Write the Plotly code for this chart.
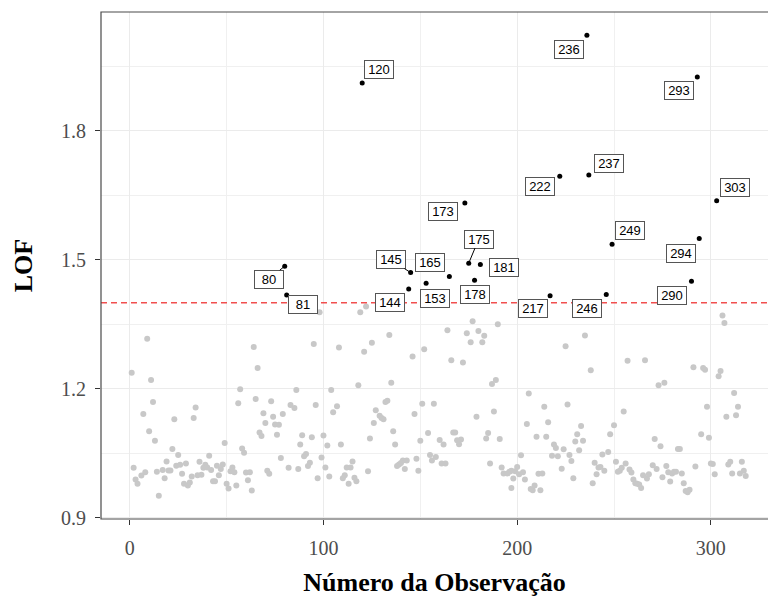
import plotly.graph_objects as go

# Observations flagged as outliers (LOF above the cut-off) and their scores
outlier_obs = [80, 81, 120, 144, 145, 153, 165, 173, 175, 178, 181,
               217, 222, 236, 237, 246, 249, 290, 293, 294, 303]
outlier_lof = [1.485, 1.418, 1.911, 1.432, 1.470, 1.445, 1.461, 1.632, 1.492, 1.452, 1.489,
               1.416, 1.694, 2.022, 1.697, 1.419, 1.536, 1.450, 1.925, 1.549, 1.637]

# Remaining observations (LOF below the cut-off)
regular_obs = [
    9, 1, 11, 12, 7, 34, 33, 23, 10, 13, 22, 25, 49, 41, 19, 2, 3, 4, 6, 8,
    14, 17, 18, 20, 21, 24, 26, 27, 29, 28, 30, 31, 32, 35, 37, 36, 38, 39, 40, 42,
    43, 44, 45, 46, 47, 48, 50, 51, 15, 52,
    98, 64, 95, 66, 57, 86, 104, 56, 65, 73, 83, 85, 96, 105, 69, 74, 79, 70, 75, 77,
    67, 68, 76, 89, 94, 100, 88, 102, 58, 59, 78, 91, 90, 99, 93, 92, 53, 54, 60, 62,
    71, 72, 82, 87, 101, 61, 55, 97, 103, 63,
    119, 122, 108, 121, 125, 134, 146, 152, 118, 135, 107, 127, 132, 133, 129, 130, 131, 126, 147, 151,
    157, 136, 137, 124, 109, 154, 150, 160, 155, 158, 156, 161, 148, 149, 141, 143, 140, 139, 138, 142,
    123, 115, 114, 112, 111, 110, 116, 117, 113,
    177, 190, 164, 174, 180, 183, 176, 182, 166, 172, 187, 189, 206, 214, 205, 216, 179, 188, 167, 168,
    169, 170, 171, 162, 185, 184, 191, 210, 215, 202, 163, 186, 192, 193, 195, 196, 197, 198, 199, 200,
    201, 203, 204, 197, 207, 208, 209, 212, 211, 213,
    225, 235, 238, 257, 266, 226, 255, 233, 231, 230, 234, 232, 219, 220, 224, 218, 221, 227, 228, 223,
    229, 250, 248, 247, 244, 240, 242, 243, 245, 241, 239, 251, 256, 252, 253, 254, 258, 259, 260, 261,
    262, 263, 264, 265, 267, 268, 270, 271,
    306, 307, 291, 296, 297, 305, 304, 273, 276, 312, 298, 314, 308, 313, 295, 299, 274, 283, 284, 272,
    277, 278, 280, 281, 282, 285, 275, 279, 292, 286, 287, 288, 289, 300, 301, 302, 309, 310, 316, 311,
    315, 317, 318,
]
regular_lof = [
    1.316, 1.237, 1.220, 1.169, 1.141, 1.156, 1.132, 1.129, 1.101, 1.079, 1.060, 1.046, 1.074, 1.044, 1.031, 1.016, 0.989, 0.979, 0.998, 1.006,
    1.007, 1.011, 0.992, 1.010, 1.010, 1.021, 1.023, 1.002, 1.026, 0.979, 0.975, 0.982, 0.996, 0.999, 1.000, 1.030, 1.016, 1.023, 1.017, 1.011,
    0.985, 0.985, 1.021, 0.999, 1.013, 1.024, 0.979, 0.968, 0.951, 1.008,
    1.378, 1.297, 1.304, 1.248, 1.199, 1.197, 1.197, 1.166, 1.176, 1.171, 1.162, 1.155, 1.162, 1.145, 1.143, 1.135, 1.141, 1.120, 1.117, 1.116,
    1.098, 1.090, 1.093, 1.092, 1.087, 1.091, 1.070, 1.068, 1.061, 1.051, 1.039, 1.048, 1.043, 1.040, 1.028, 1.020, 1.017, 1.006, 1.005, 1.006,
    1.009, 1.002, 1.016, 1.013, 1.017, 0.987, 0.975, 0.992, 0.996, 0.963,
    1.378, 1.391, 1.296, 1.286, 1.307, 1.325, 1.275, 1.292, 1.208, 1.214, 1.159, 1.150, 1.169, 1.172, 1.137, 1.132, 1.129, 1.120, 1.141, 1.165,
    1.165, 1.101, 1.070, 1.084, 1.070, 1.097, 1.079, 1.081, 1.046, 1.041, 1.033, 1.026, 1.037, 1.009, 1.033, 1.033, 1.027, 1.024, 1.020, 1.013,
    1.008, 1.031, 1.017, 1.017, 0.999, 0.992, 0.993, 0.985, 0.979,
    1.357, 1.350, 1.336, 1.329, 1.334, 1.323, 1.308, 1.308, 1.266, 1.261, 1.211, 1.220, 1.189, 1.158, 1.118, 1.122, 1.135, 1.147, 1.098, 1.098,
    1.080, 1.071, 1.082, 1.070, 1.097, 1.084, 1.083, 1.088, 1.088, 1.045, 1.026, 1.026, 1.017, 1.003, 1.003, 1.007, 1.009, 0.991, 1.008, 1.018,
    1.001, 1.006, 0.989, 0.969, 0.967, 0.964, 0.975, 0.964, 1.002, 1.003,
    1.299, 1.324, 1.243, 1.265, 1.266, 1.163, 1.147, 1.113, 1.094, 1.077, 1.079, 1.057, 1.070, 1.062, 1.059, 1.044, 1.043, 1.046, 1.032, 1.014,
    0.992, 1.115, 1.094, 1.053, 1.047, 1.028, 1.017, 1.018, 1.009, 1.001, 0.980, 1.030, 1.026, 1.007, 1.009, 1.016, 1.012, 1.005, 0.989, 0.980,
    0.979, 0.977, 0.969, 0.999, 0.991, 1.001, 1.022, 1.083,
    1.370, 1.353, 1.250, 1.248, 1.244, 1.241, 1.229, 1.208, 1.214, 1.190, 1.158, 1.158, 1.135, 1.138, 1.094, 1.086, 1.066, 1.060, 1.060, 1.013,
    1.020, 1.006, 1.003, 1.007, 1.007, 1.003, 0.994, 0.984, 1.019, 0.980, 0.962, 0.959, 0.965, 1.026, 1.025, 1.001, 1.024, 1.030, 1.030, 1.003,
    1.003, 1.009, 0.997,
]

lof_cutoff = 1.4

x_ticks = [0, 100, 200, 300]
y_ticks = [0.9, 1.2, 1.5, 1.8]
y_tick_text = ["0.9", "1.2", "1.5", "1.8"]

# Pixel offsets of each label from its point (dx right, dy down); True = draw a leader segment
label_offsets = {
    80: (-16, 13, True), 81: (16, 10, True), 120: (17, -13, False), 144: (-19, 14, False),
    145: (-20, -13, True), 153: (9, 15, False), 165: (-19, -14, False), 173: (-22, 9, False),
    175: (10, -24, True), 178: (0, 14, False), 181: (24, 3, False), 217: (-17, 13, False),
    222: (-20, 10, False), 236: (-18, 14, False), 237: (20, -11, False), 246: (-19, 14, False),
    249: (18, -14, False), 290: (-19, 14, False), 293: (-18, 14, False), 294: (-18, 15, False),
    303: (18, -13, False),
}

serif = "Liberation Serif, Times New Roman, serif"
sans = "Liberation Sans, Arial, sans-serif"

fig = go.Figure()

fig.add_trace(go.Scatter(
    x=regular_obs, y=regular_lof, mode="markers",
    marker=dict(color="#c8c8c8", size=6, line=dict(width=0)),
    hoverinfo="x+y", showlegend=False,
))
fig.add_trace(go.Scatter(
    x=outlier_obs, y=outlier_lof, mode="markers",
    marker=dict(color="black", size=5, line=dict(width=0)),
    hoverinfo="x+y", showlegend=False,
))

# Cut-off line
fig.add_shape(type="line", xref="paper", x0=0, x1=1, yref="y", y0=lof_cutoff, y1=lof_cutoff,
              line=dict(color="rgba(240,60,60,0.9)", width=1.4, dash="6px,4px"), layer="above")

# Panel border (left, top, bottom; right side runs past the page edge)
fig.add_shape(type="rect", xref="paper", yref="paper", x0=0, x1=1.05, y0=0, y1=1,
              line=dict(color="#4a4a4a", width=1.2), fillcolor="rgba(0,0,0,0)", layer="above")

annotations = []
for obs, lof in zip(outlier_obs, outlier_lof):
    dx, dy, seg = label_offsets[obs]
    common = dict(
        x=obs, y=lof, xref="x", yref="y", text=str(obs),
        font=dict(family=sans, size=13, color="black"),
        bgcolor="white", bordercolor="#555555", borderwidth=1, borderpad=2,
        width=24, height=13, align="center", valign="middle",
    )
    if seg:
        annotations.append(dict(common, showarrow=True, ax=dx, ay=dy, arrowhead=0,
                                arrowwidth=1, arrowcolor="black", standoff=2))
    else:
        annotations.append(dict(common, showarrow=False, xshift=dx, yshift=-dy))

fig.update_layout(
    width=768, height=599,
    margin=dict(l=101, r=0, t=12, b=80),
    paper_bgcolor="white", plot_bgcolor="white",
    annotations=annotations,
    xaxis=dict(
        range=[-14.85, 329.5], tickvals=x_ticks, ticks="outside", ticklen=5,
        tickcolor="#333333", tickwidth=1, ticklabelstandoff=6,
        tickfont=dict(family=serif, size=20, color="#4d4d4d"),
        showgrid=True, gridcolor="#ebebeb", gridwidth=1.4, zeroline=False,
        minor=dict(tickvals=[50, 150, 250], showgrid=True, gridcolor="#f0f0f0", gridwidth=1),
        title=dict(text="<b>Número da Observação</b>", font=dict(family=serif, size=26, color="black"), standoff=14),
        showline=False,
    ),
    yaxis=dict(
        range=[0.897, 2.076], tickvals=y_ticks, ticktext=y_tick_text, ticks="outside", ticklen=5,
        tickcolor="#333333", tickwidth=1, ticklabelstandoff=5,
        tickfont=dict(family=serif, size=20, color="#4d4d4d"),
        showgrid=True, gridcolor="#ebebeb", gridwidth=1.4, zeroline=False,
        minor=dict(tickvals=[1.05, 1.35, 1.65, 1.95], showgrid=True, gridcolor="#f0f0f0", gridwidth=1),
        title=dict(text="<b>LOF</b>", font=dict(family=serif, size=26, color="black"), standoff=20),
        showline=False,
    ),
)

fig.write_html("out.html")
